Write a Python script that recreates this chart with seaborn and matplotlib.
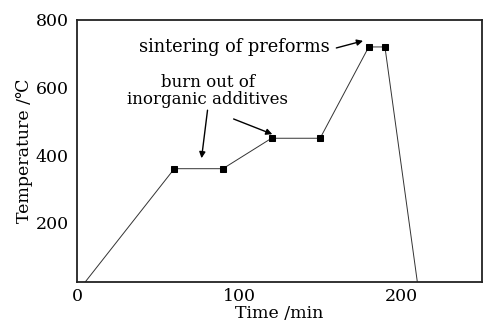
import matplotlib
matplotlib.use("Agg")
import matplotlib.pyplot as plt
import seaborn as sns
import pandas as pd

time_min = [5, 60, 90, 120, 150, 180, 190, 210]
temperature_c = [25, 360, 360, 450, 450, 720, 720, 25]
x_ticks = [0, 100, 200]
y_ticks = [200, 400, 600, 800]

sns.set_theme(style="white")
plt.rcParams['font.family'] = ['DejaVu Serif', 'DejaVu Sans']
plt.rcParams['mathtext.fontset'] = 'dejavuserif'
plt.rcParams['text.color'] = 'black'
plt.rcParams['axes.labelcolor'] = 'black'
plt.rcParams['xtick.color'] = 'black'
plt.rcParams['ytick.color'] = 'black'

df = pd.DataFrame({"Time": time_min, "Temp": temperature_c})

fig = plt.figure(figsize=(4.88, 3.26), dpi=100)
ax = fig.add_axes([0.158, 0.135, 0.830, 0.804])

sns.lineplot(data=df, x="Time", y="Temp", ax=ax, color="#333333", linewidth=0.7,
             marker="s", markersize=5, markevery=list(range(1, 7)),
             markerfacecolor="black", markeredgecolor="black")

ax.set_xlim(0, 250)
ax.set_ylim(25, 800)
ax.set_xticks(x_ticks)
ax.set_yticks(y_ticks)
ax.set_xlabel("Time /min", fontsize=12.5, labelpad=0)
ax.set_ylabel("Temperature /℃", fontsize=12.5, labelpad=2)
ax.tick_params(axis="x", direction="in", length=4, width=1, labelsize=12.5, pad=4)
ax.tick_params(axis="y", direction="out", length=4, width=1, labelsize=12.5, pad=2)
for s in ax.spines.values():
    s.set_linewidth(1.3)
    s.set_color("#222222")

arrow = dict(arrowstyle="-|>", color="black", lw=1.0, mutation_scale=9, shrinkA=0, shrinkB=0)
ax.text(80.5, 590, "burn out of\ninorganic additives", ha="center", va="center",
        fontsize=12, linespacing=0.95)
ax.annotate("", xy=(76.8, 391), xytext=(80.5, 533), arrowprops=arrow)
ax.annotate("", xy=(120.5, 462), xytext=(96.6, 507), arrowprops=arrow)
ax.text(97, 720, "sintering of preforms", ha="center", va="center", fontsize=12.8)
ax.annotate("", xy=(176.5, 738), xytext=(160, 717), arrowprops=arrow)

fig.savefig("out.png", dpi=100)
